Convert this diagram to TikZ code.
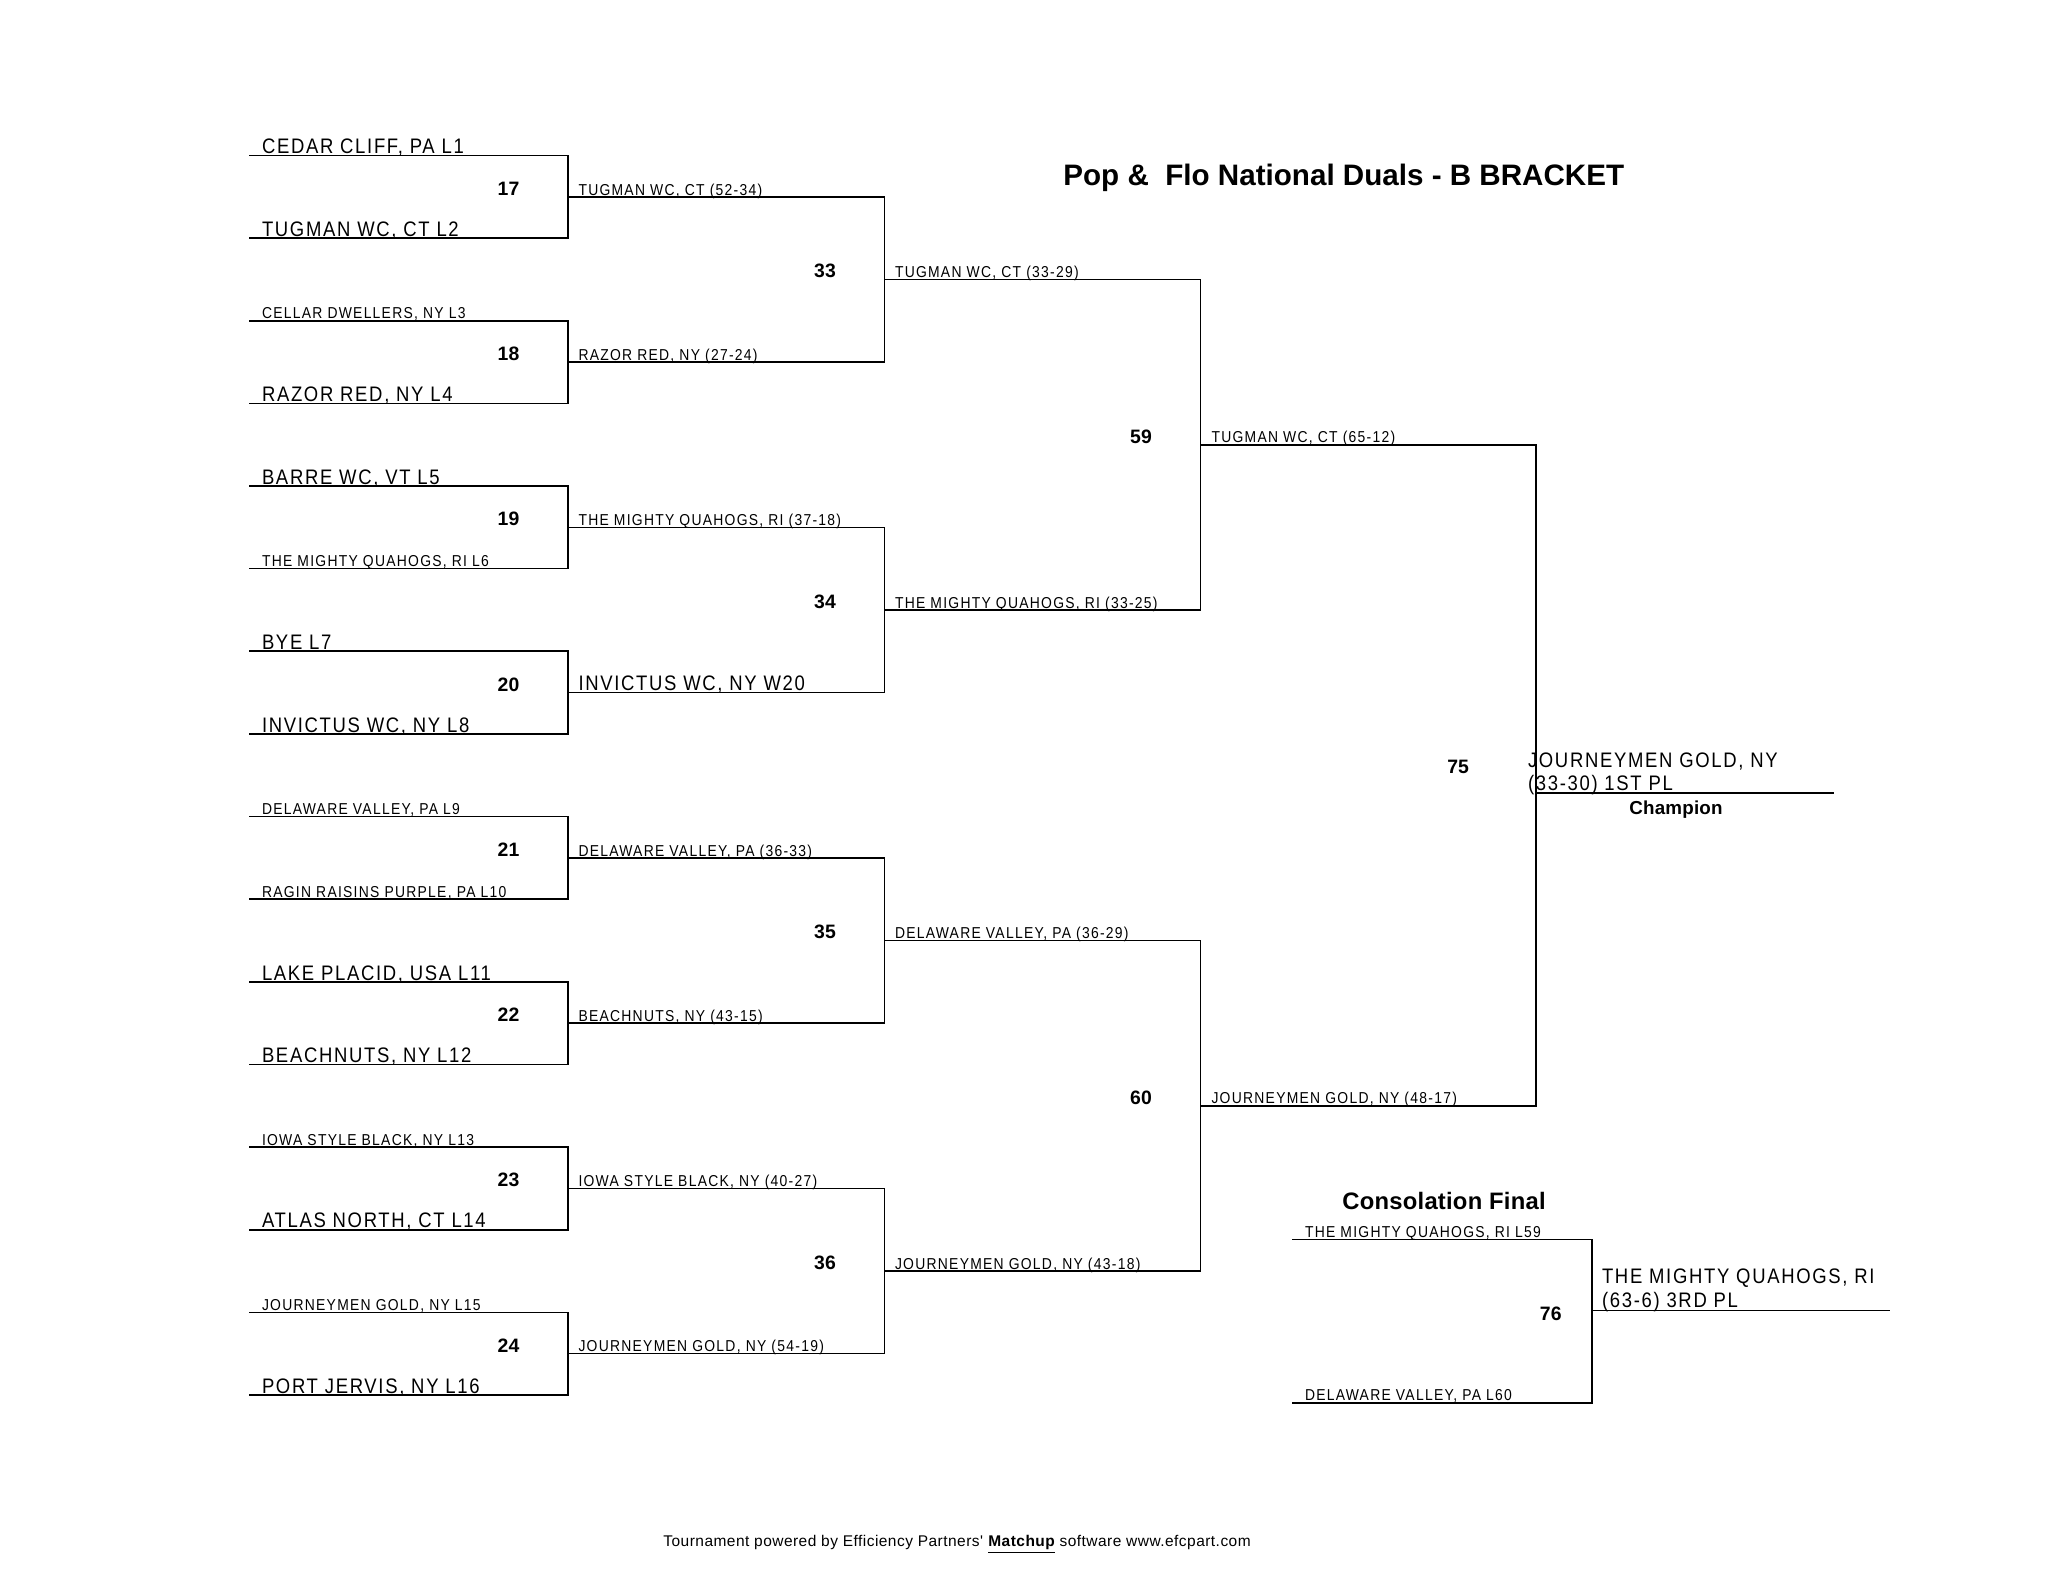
\documentclass[tikz,border=0pt]{standalone}
\usepackage{fontspec}
\setmainfont{Liberation Sans}
\newfontfamily\fbig[FakeStretch=0.88,LetterSpace=8]{Liberation Sans}
\newfontfamily\fsmall[FakeStretch=0.88,LetterSpace=8]{Liberation Sans}
\newfontfamily\fnum[LetterSpace=1]{Liberation Sans}
\newfontfamily\ffoot[LetterSpace=3]{Liberation Sans}
\tikzset{
  br/.style={line width=0.8pt, line cap=rect},
  labbig/.style={font=\fbig\fontsize{10.5}{12}\selectfont, anchor=base west, inner sep=0pt, outer sep=0pt},
  labsmall/.style={font=\fsmall\fontsize{7.9}{9}\selectfont, anchor=base west, inner sep=0pt, outer sep=0pt},
  numlab/.style={font=\fnum\bfseries\fontsize{9.7}{11}\selectfont, anchor=base east, inner sep=0pt, outer sep=0pt},
  titlelab/.style={font=\bfseries\fontsize{14.8}{17}\selectfont, anchor=base west, inner sep=0pt},
  sublab/.style={font=\fnum\bfseries\fontsize{11.9}{14}\selectfont, anchor=base west, inner sep=0pt},
  champlab/.style={font=\fnum\bfseries\fontsize{9.4}{11}\selectfont, anchor=base, inner sep=0pt},
  footlab/.style={font=\ffoot\fontsize{7.75}{9}\selectfont, anchor=base west, inner sep=0pt}
}
\begin{document}
\begin{tikzpicture}[x=0.5pt,y=-0.5pt]
\fill[white] (0,0) rectangle (2048,1582);
\useasboundingbox (0,0) rectangle (2048,1582);

% title
\node[titlelab] (title) at (1063,186) {Pop \& \ Flo National Duals - B BRACKET};

% round 1 entries
\foreach \k/\sz/\txt in {
  0/big/{CEDAR CLIFF, PA L1},
  1/big/{TUGMAN WC, CT L2},
  2/small/{CELLAR DWELLERS, NY L3},
  3/big/{RAZOR RED, NY L4},
  4/big/{BARRE WC, VT L5},
  5/small/{THE MIGHTY QUAHOGS, RI L6},
  6/big/{BYE L7},
  7/big/{INVICTUS WC, NY L8},
  8/small/{DELAWARE VALLEY, PA L9},
  9/small/{RAGIN RAISINS PURPLE, PA L10},
  10/big/{LAKE PLACID, USA L11},
  11/big/{BEACHNUTS, NY L12},
  12/small/{IOWA STYLE BLACK, NY L13},
  13/big/{ATLAS NORTH, CT L14},
  14/small/{JOURNEYMEN GOLD, NY L15},
  15/big/{PORT JERVIS, NY L16}}{
  \pgfmathsetmacro\yy{155.5+82.63*\k}
  \coordinate (a\k) at (250,\yy);
  \coordinate (b\k) at (568,\yy);
  \node[lab\sz] (ta\k) at (262,\yy-1.8) {\txt};
}

% round 1 matches 17-24
\foreach \j/\sz/\txt in {
  0/small/{TUGMAN WC, CT (52-34)},
  1/small/{RAZOR RED, NY (27-24)},
  2/small/{THE MIGHTY QUAHOGS, RI (37-18)},
  3/big/{INVICTUS WC, NY W20},
  4/small/{DELAWARE VALLEY, PA (36-33)},
  5/small/{BEACHNUTS, NY (43-15)},
  6/small/{IOWA STYLE BLACK, NY (40-27)},
  7/small/{JOURNEYMEN GOLD, NY (54-19)}}{
  \pgfmathtruncatemacro\ka{2*\j}
  \pgfmathtruncatemacro\kb{2*\j+1}
  \pgfmathtruncatemacro\mnum{17+\j}
  \pgfmathsetmacro\yy{155.5+82.63*(2*\j+0.5)}
  \draw[br] (a\ka) -- (b\ka) -- (b\kb) -- (a\kb);
  \coordinate (c\j) at (568,\yy);
  \coordinate (d\j) at (884.5,\yy);
  \draw[br] (c\j) -- (d\j);
  \node[numlab] (m\mnum) at (519.5,\yy-1.5) {\mnum};
  \node[lab\sz] (tb\j) at (578.5,\yy-1.8) {\txt};
}

% round 2 matches 33-36
\foreach \i/\txt in {
  0/{TUGMAN WC, CT (33-29)},
  1/{THE MIGHTY QUAHOGS, RI (33-25)},
  2/{DELAWARE VALLEY, PA (36-29)},
  3/{JOURNEYMEN GOLD, NY (43-18)}}{
  \pgfmathtruncatemacro\ja{2*\i}
  \pgfmathtruncatemacro\jb{2*\i+1}
  \pgfmathtruncatemacro\mnum{33+\i}
  \pgfmathsetmacro\yy{155.5+82.63*(4*\i+1.5)}
  \draw[br] (d\ja) -- (d\jb);
  \coordinate (e\i) at (884.5,\yy);
  \coordinate (f\i) at (1200.5,\yy);
  \draw[br] (e\i) -- (f\i);
  \node[numlab] (m\mnum) at (836,\yy-1.5) {\mnum};
  \node[labsmall] (tc\i) at (895,\yy-1.8) {\txt};
}

% round 3 matches 59-60
\foreach \h/\txt in {
  0/{TUGMAN WC, CT (65-12)},
  1/{JOURNEYMEN GOLD, NY (48-17)}}{
  \pgfmathtruncatemacro\ia{2*\h}
  \pgfmathtruncatemacro\ib{2*\h+1}
  \pgfmathtruncatemacro\mnum{59+\h}
  \pgfmathsetmacro\yy{155.5+82.63*(8*\h+3.5)}
  \draw[br] (f\ia) -- (f\ib);
  \coordinate (g\h) at (1200.5,\yy);
  \coordinate (h\h) at (1536,\yy);
  \draw[br] (g\h) -- (h\h);
  \node[numlab] (m\mnum) at (1152,\yy-1.5) {\mnum};
  \node[labsmall] (td\h) at (1211.5,\yy-1.8) {\txt};
}

% final 75
\draw[br] (h0) -- (h1);
\coordinate (champA) at (1536,793);
\coordinate (champB) at (1833,793);
\draw[br] (champA) -- (champB);
\node[numlab] (m75) at (1469,773.5) {75};
\node[labbig] (ch1) at (1528,767.3) {JOURNEYMEN GOLD, NY};
\node[labbig] (ch2) at (1528,790.7) {(33-30) 1ST PL};
\node[champlab] (champ) at (1676,814.7) {Champion};

% consolation final 76
\node[sublab] (cons) at (1342,1209) {Consolation Final};
\coordinate (ca0) at (1293,1239.3);
\coordinate (cb0) at (1592,1239.3);
\coordinate (ca1) at (1293,1402.7);
\coordinate (cb1) at (1592,1402.7);
\coordinate (cw0) at (1592,1310.3);
\coordinate (cw1) at (1889,1310.3);
\draw[br] (ca0) -- (cb0) -- (cb1) -- (ca1);
\draw[br] (cw0) -- (cw1);
\node[labsmall] (cl0) at (1305,1237.5) {THE MIGHTY QUAHOGS, RI L59};
\node[labsmall] (cl1) at (1305,1400.9) {DELAWARE VALLEY, PA L60};
\node[numlab] (m76) at (1561.6,1320.8) {76};
\node[labbig] (cw1t) at (1602,1283) {THE MIGHTY QUAHOGS, RI};
\node[labbig] (cw2t) at (1602,1307) {(63-6) 3RD PL};

% footer
\node[footlab] (foot) at (663,1546) {Tournament powered by Efficiency Partners' \textbf{\underline{Matchup}} software www.efcpart.com};
\end{tikzpicture}
\end{document}
